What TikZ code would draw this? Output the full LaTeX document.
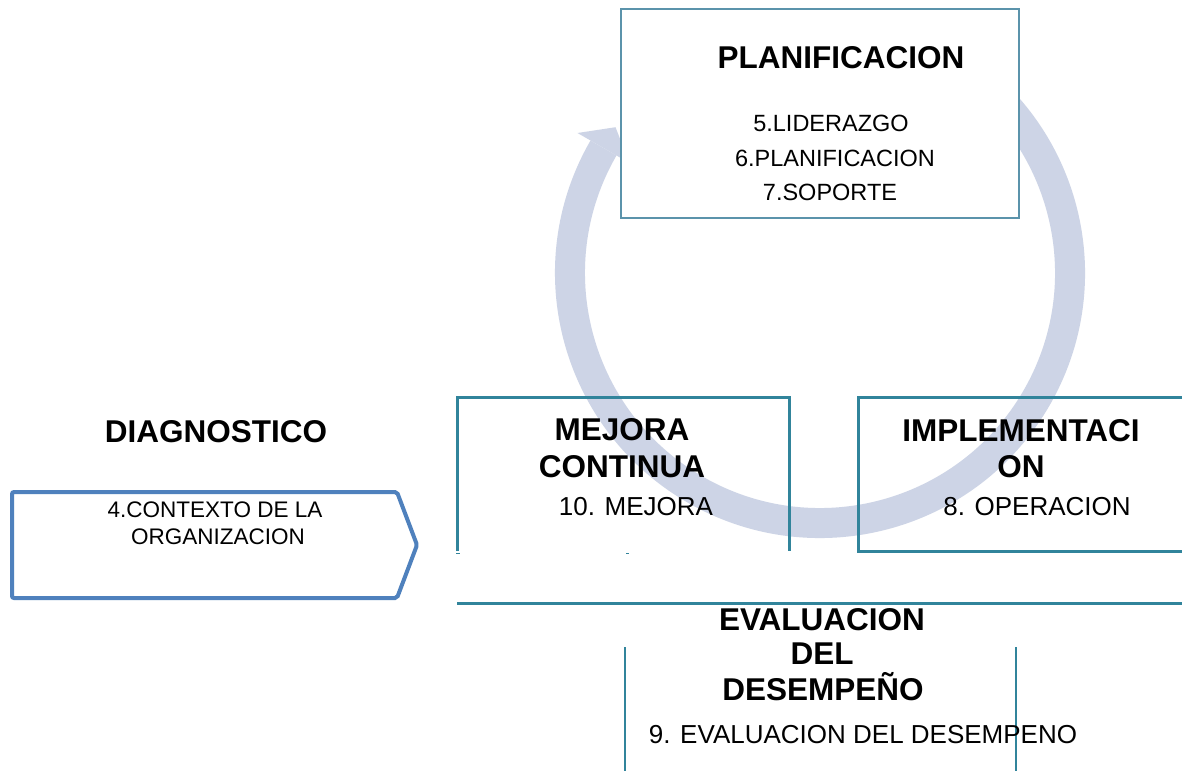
\documentclass[tikz,border=0pt]{standalone}
\usepackage{fontspec}
\setmainfont{Liberation Sans}
\usetikzlibrary{calc}
\definecolor{ringc}{HTML}{CDD4E6}
\definecolor{tealc}{HTML}{31849B}
\definecolor{topc}{HTML}{5B93AB}
\definecolor{pentc}{HTML}{4F81BD}
\tikzset{
 title/.style={anchor=base, inner sep=0pt, font=\fontsize{31.5}{35}\selectfont\bfseries},
 item/.style={anchor=base, inner sep=0pt, font=\fontsize{26}{30}\selectfont},
 topitem/.style={anchor=base, inner sep=0pt, font=\fontsize{23.5}{28}\selectfont},
 ctxitem/.style={anchor=base, inner sep=0pt, font=\fontsize{22.5}{27}\selectfont},
 frame/.style={draw=tealc, line width=3pt},
 ringline/.style={draw=ringc, line width=30pt},
}
\begin{document}
\begin{tikzpicture}[x=1pt,y=-1pt]
\useasboundingbox (0,0) rectangle (1182,771);
\fill[white] (0,0) rectangle (1182,771);
% cycle ring with arrow head
\coordinate (c) at (820,273);
\draw[ringline] ($(c)+(-60:250)$) arc[start angle=-60, end angle=210, radius=250];
\coordinate (barbout) at ($(c)+(210:280)$);
\coordinate (barbin) at ($(c)+(210:220)$);
\coordinate (tip) at ($(c)+(210:250)+(300:24)$);
\fill[ringc] (barbout) -- (tip) -- (barbin) -- cycle;
% top box
\node[draw=topc, line width=2pt, fill=white, minimum width=398pt, minimum height=209pt, inner sep=0pt] (topbox) at (820,113.5) {};
\node[title] (plan) at (841,68) {PLANIFICACION};
\node[topitem] (lid) at (831,131) {5.LIDERAZGO};
\node[topitem] (pla) at (835,166) {6.PLANIFICACION};
\node[topitem] (sop) at (830,200) {7.SOPORTE};
% diagnostico
\node[title] (diag) at (216,442) {DIAGNOSTICO};
\coordinate (p1) at (12,492);
\coordinate (p2) at (397,492);
\coordinate (p3) at (417,545);
\coordinate (p4) at (397,598);
\coordinate (p5) at (12,598);
\draw[pentc, line width=4pt, rounded corners=2pt] (p1) -- (p2) -- (p3) -- (p4) -- (p5) -- cycle;
\node[ctxitem] (ctx1) at (215,517) {4.CONTEXTO DE LA};
\node[ctxitem] (ctx2) at (218,544) {ORGANIZACION};
% mejora continua
\coordinate (m1) at (457,551);
\coordinate (m2) at (457,397);
\coordinate (m3) at (789,397);
\coordinate (m4) at (789,551);
\draw[frame] (m1) -- (m2) -- (m3) -- (m4);
\draw[tealc, line width=1pt] (456,553) -- (460,553) (626,553) -- (629,553);
\node[title] (mej1) at (622,440) {MEJORA};
\node[title] (mej2) at (622,477) {CONTINUA};
\node[item] (mej3) at (636,515) {10. MEJORA};
% implementacion
\coordinate (i1) at (1182,397);
\coordinate (i2) at (858,397);
\coordinate (i3) at (858,551);
\coordinate (i4) at (1182,551);
\draw[frame] (i1) -- (i2) -- (i3) -- (i4);
\node[title] (imp1) at (1021,441) {IMPLEMENTACI};
\node[title] (imp2) at (1021,477) {ON};
\node[item] (imp3) at (1037,515) {8. OPERACION};
% evaluacion
\coordinate (e1) at (457,603);
\coordinate (e2) at (1182,603);
\draw[frame] (e1) -- (e2);
\coordinate (v1) at (625,647);
\coordinate (v2) at (625,771);
\coordinate (v3) at (1016,647);
\coordinate (v4) at (1016,771);
\draw[tealc, line width=2pt] (v1) -- (v2) (v3) -- (v4);
\node[title] (ev1) at (822,630) {EVALUACION};
\node[title] (ev2) at (822,664) {DEL};
\node[title] (ev3) at (823,700) {DESEMPEÑO};
\node[item] (ev4) at (863,743) {9. EVALUACION DEL DESEMPENO};
\end{tikzpicture}
\end{document}
